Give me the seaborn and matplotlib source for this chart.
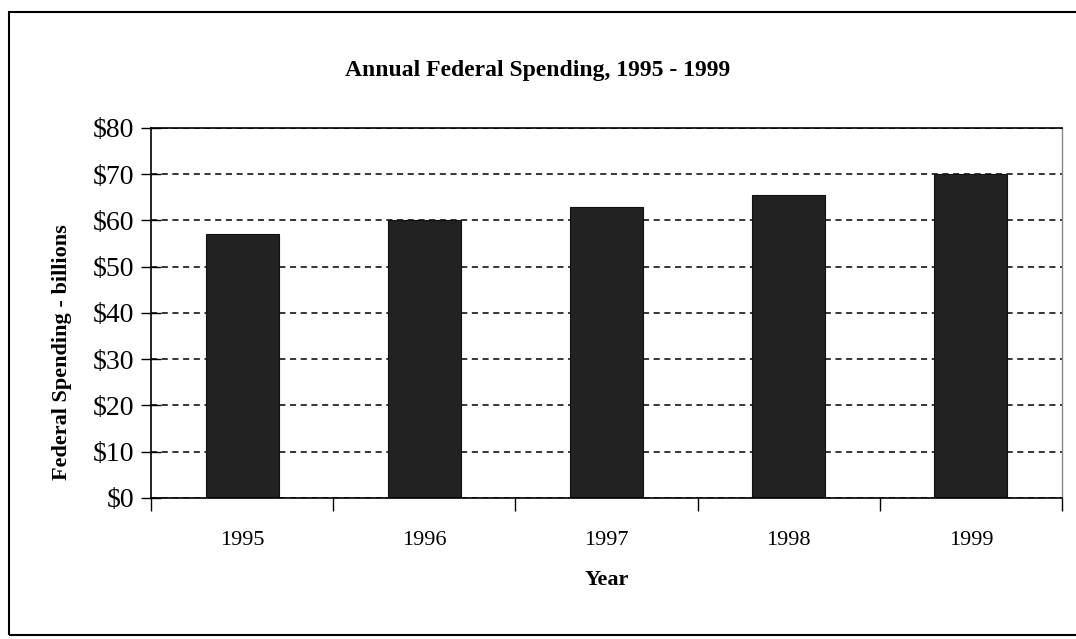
import matplotlib
matplotlib.use("Agg")
import matplotlib.pyplot as plt
import seaborn as sns
import numpy as np
from matplotlib.patches import Rectangle
from matplotlib.ticker import FuncFormatter

years = ["1995", "1996", "1997", "1998", "1999"]
spending = [57, 60, 63, 65.5, 70]

sns.set_style("white")
plt.rcParams['font.family'] = ['Liberation Serif', 'DejaVu Serif']
plt.rcParams['text.color'] = 'black'
plt.rcParams['axes.labelcolor'] = 'black'
plt.rcParams['xtick.color'] = 'black'
plt.rcParams['ytick.color'] = 'black'

fig = plt.figure(figsize=(10.76, 6.39), dpi=100)
ax = fig.add_axes([0.1403, 0.2207, 0.8467, 0.579])

sns.barplot(x=years, y=spending, color="#222222", width=0.4, ax=ax,
            edgecolor="#111111", linewidth=0.8, saturation=1)

ax.set_ylim(0, 80)
ax.set_xlim(-0.5, 4.5)
ax.set_yticks(range(0, 81, 10))
ax.yaxis.set_major_formatter(FuncFormatter(lambda v, p: f"${int(v)}"))
ax.grid(axis="y", linestyle=(0, (4, 3)), color="black", linewidth=1.1)
ax.set_axisbelow(True)

# x ticks between categories
ax.set_xticks(np.arange(-0.5, 5, 1), minor=True)
ax.tick_params(axis="x", which="major", bottom=True, length=0, labelsize=16, pad=24)
ax.tick_params(axis="x", which="minor", bottom=True, length=9, width=1, direction="out")
ax.tick_params(axis="y", left=True, length=14, width=1, direction="inout", labelsize=20, pad=5)

for s in ["left", "bottom", "top"]:
    ax.spines[s].set_color("black")
    ax.spines[s].set_linewidth(1.2)
ax.spines["right"].set_color("#888888")
ax.spines["right"].set_linestyle((0, (1, 1)))
ax.spines["right"].set_linewidth(1)

ax.set_xlabel("Year", fontsize=16, fontweight="bold", labelpad=14)
ax.set_ylabel("Federal Spending - billions", fontsize=16, fontweight="bold")
ax.yaxis.set_label_coords(-0.087, 0.395)
fig.text(0.5, 0.89, "Annual Federal Spending, 1995 - 1999", ha="center", va="center",
         fontsize=17, fontweight="bold")

# outer frame of the chart
fig.patches.append(Rectangle((0.008, 0.006), 1.2, 0.976, transform=fig.transFigure,
                             fill=False, edgecolor="black", linewidth=1.5))

fig.savefig("out.png", dpi=100)
